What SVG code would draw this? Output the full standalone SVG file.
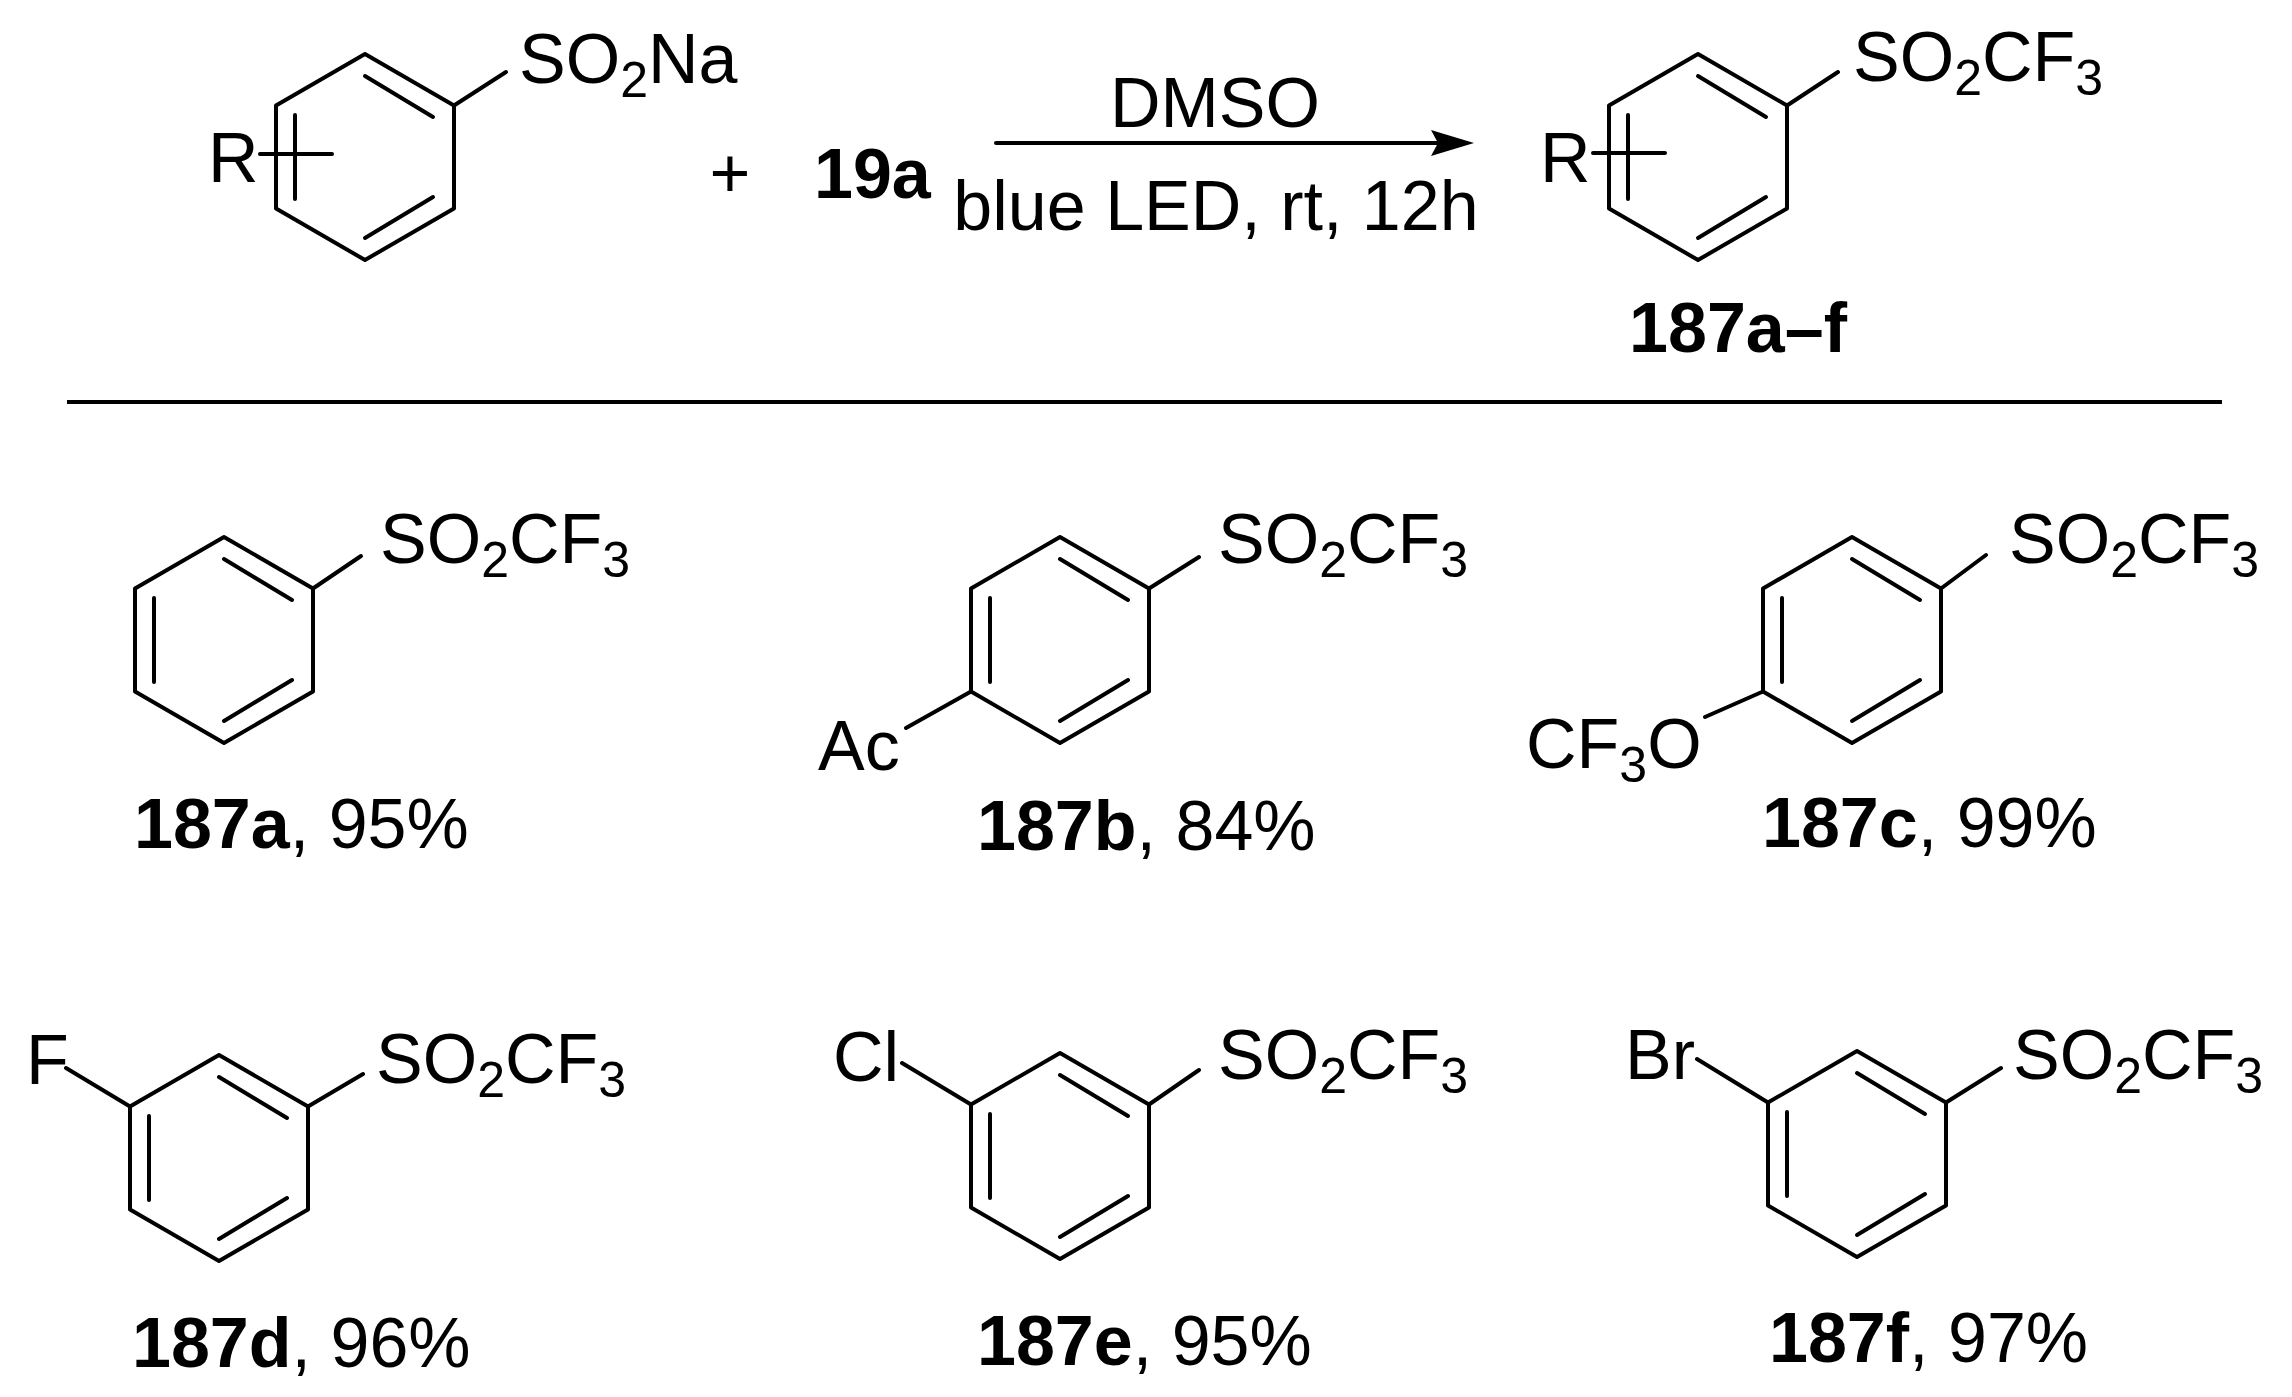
<svg xmlns="http://www.w3.org/2000/svg" width="2292" height="1397" viewBox="0 0 2292 1397">
<style>
.b{fill:none;stroke:#000;stroke-width:4;stroke-linecap:round;stroke-linejoin:round}
text{font-family:"Liberation Sans",Arial,sans-serif;font-size:70px;fill:#000}
.s{font-size:50px}
.bd{font-weight:bold}
</style>
<defs>
<g id="ring">
<polygon class="b" points="0,-103 89,-51.5 89,51.5 0,103 -89,51.5 -89,-51.5"/>
<path class="b" d="M-70,-42V42M0,-81L68,-40M0,81L68,40"/>
</g>
</defs>
<g id="reactant">
<use href="#ring" x="365" y="157"/>
<path class="b" d="M454,105.5L506,72M260,154H332"/>
<text x="519" y="83">SO<tspan class="s" dy="14">2</tspan><tspan dy="-14">Na</tspan></text>
<text x="208" y="182">R</text>
</g>
<g id="plus"><text x="730" y="197" text-anchor="middle">+</text><text class="bd" x="814" y="198">19a</text></g>
<g id="conditions">
<text x="1215" y="127" text-anchor="middle">DMSO</text>
<text x="1216" y="230" text-anchor="middle">blue LED, rt, 12h</text>
</g>
<g id="product">
<use href="#ring" x="1698" y="157"/>
<path class="b" d="M1787,105.5L1838,72M1593,153H1665"/>
<text x="1853" y="81">SO<tspan class="s" dy="14">2</tspan><tspan dy="-14">CF</tspan><tspan class="s" dy="14">3</tspan></text>
<text x="1540" y="182">R</text>
<text class="bd" x="1738" y="352" text-anchor="middle">187a–f</text>
</g>
<g id="connectors">
<line class="b" x1="996" y1="143" x2="1440" y2="143"/>
<polygon points="1474,143 1431,130 1438,143 1431,156" fill="#000"/>
<line x1="67" y1="402" x2="2222" y2="402" stroke="#000" stroke-width="4"/>
</g>
<g id="c187a">
<use href="#ring" x="224" y="640"/>
<path class="b" d="M313,588.5L361,556"/>
<text x="380" y="563">SO<tspan class="s" dy="14">2</tspan><tspan dy="-14">CF</tspan><tspan class="s" dy="14">3</tspan></text>
<text x="134" y="848"><tspan class="bd">187a</tspan>, 95%</text>
</g>
<g id="c187b">
<use href="#ring" x="1060" y="640"/>
<path class="b" d="M1149,588.5L1199,557M971,691.5L906,728"/>
<text x="1218" y="563">SO<tspan class="s" dy="14">2</tspan><tspan dy="-14">CF</tspan><tspan class="s" dy="14">3</tspan></text>
<text x="818" y="770">Ac</text>
<text x="977" y="850"><tspan class="bd">187b</tspan>, 84%</text>
</g>
<g id="c187c">
<use href="#ring" x="1852" y="640"/>
<path class="b" d="M1941,588.5L1986,555M1763,691.5L1705,717"/>
<text x="2009" y="563">SO<tspan class="s" dy="14">2</tspan><tspan dy="-14">CF</tspan><tspan class="s" dy="14">3</tspan></text>
<text x="1526" y="768">CF<tspan class="s" dy="14">3</tspan><tspan dy="-14">O</tspan></text>
<text x="1762" y="847"><tspan class="bd">187c</tspan>, 99%</text>
</g>
<g id="c187d">
<use href="#ring" x="219" y="1158"/>
<path class="b" d="M308,1106.5L363,1074M130,1106.5L66,1068"/>
<text x="376" y="1083">SO<tspan class="s" dy="14">2</tspan><tspan dy="-14">CF</tspan><tspan class="s" dy="14">3</tspan></text>
<text x="26" y="1084">F</text>
<text x="132" y="1367"><tspan class="bd">187d</tspan>, 96%</text>
</g>
<g id="c187e">
<use href="#ring" x="1060" y="1156"/>
<path class="b" d="M1149,1104.5L1199,1070M971,1104.5L902,1063"/>
<text x="1218" y="1079">SO<tspan class="s" dy="14">2</tspan><tspan dy="-14">CF</tspan><tspan class="s" dy="14">3</tspan></text>
<text x="833" y="1081">Cl</text>
<text x="977" y="1365"><tspan class="bd">187e</tspan>, 95%</text>
</g>
<g id="c187f">
<use href="#ring" x="1857" y="1154"/>
<path class="b" d="M1946,1102.5L2001,1068M1768,1102.5L1697,1059"/>
<text x="2013" y="1079">SO<tspan class="s" dy="14">2</tspan><tspan dy="-14">CF</tspan><tspan class="s" dy="14">3</tspan></text>
<text x="1625" y="1079">Br</text>
<text x="1769" y="1362"><tspan class="bd">187f</tspan>, 97%</text>
</g>
</svg>
